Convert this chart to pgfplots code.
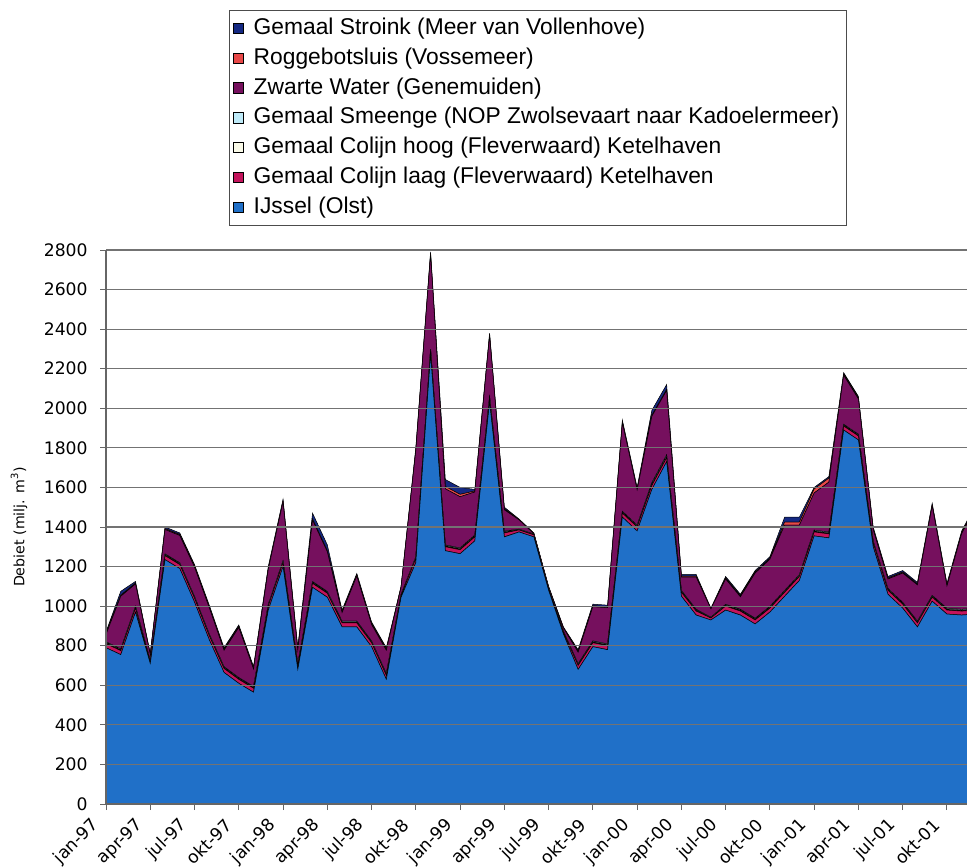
\documentclass[border=0pt]{standalone}
\usepackage{fontspec}
\usepackage{pgfplots}
\usepackage{pgfplotstable}
\pgfplotsset{compat=1.18}
\newfontfamily\tickfont{DejaVu Sans}
\newfontfamily\legendfont{Liberation Sans}
\definecolor{cIJ}{RGB}{32,112,200}
\definecolor{cLaag}{RGB}{196,20,92}
\definecolor{cHoog}{RGB}{250,250,232}
\definecolor{cSmee}{RGB}{190,234,248}
\definecolor{cZwart}{RGB}{118,16,94}
\definecolor{cRogge}{RGB}{232,72,72}
\definecolor{cStro}{RGB}{20,40,130}

\pgfplotstableread{
x blue laag hoog smee zwart rogge stro
0 790 20 4 5 38 5 8
1 755 20 4 5 266 5 20
2 970 20 4 5 113 5 8
3 710 10 2 2 32 2 2
4 1235 20 4 5 123 5 8
5 1190 20 4 5 138 5 8
6 1020 20 4 5 148 5 8
7 830 20 4 5 133 5 8
8 665 20 4 5 83 5 8
9 610 20 4 5 253 5 8
10 565 20 4 5 88 5 8
11 980 20 4 5 178 5 8
12 1200 20 4 5 298 5 8
13 680 20 4 5 68 5 8
14 1095 20 4 5 311 5 30
15 1045 20 4 5 201 5 30
16 895 20 4 5 43 5 8
17 895 20 4 5 228 5 8
18 795 20 4 5 83 5 8
19 630 20 4 5 118 5 8
20 1045 10 2 2 37 2 2
21 1220 20 4 5 538 5 8
22 2270 20 4 5 478 5 8
23 1280 20 4 5 284 12 35
24 1265 20 4 5 259 12 35
25 1330 20 4 5 218 5 8
26 2030 20 4 5 308 5 8
27 1350 20 4 5 108 5 8
28 1375 10 2 2 47 2 2
29 1350 10 2 2 2 2 2
30 1080 10 2 2 2 2 2
31 860 10 2 2 17 2 2
32 680 20 4 5 58 5 8
33 795 20 4 5 173 5 8
34 780 20 4 5 183 5 8
35 1450 20 4 5 448 5 8
36 1380 20 4 5 178 5 8
37 1590 20 4 10 336 5 25
38 1730 20 4 10 326 5 25
39 1050 20 4 5 68 5 8
40 955 20 4 5 163 5 8
41 930 10 2 2 42 2 2
42 980 20 4 5 128 5 8
43 955 20 4 5 63 5 8
44 910 20 4 5 228 5 8
45 970 20 4 5 238 5 8
46 1050 20 4 5 331 15 25
47 1130 20 4 5 251 15 25
48 1355 20 4 5 188 20 8
49 1345 20 4 5 253 20 8
50 1890 20 4 5 248 5 8
51 1840 20 4 5 178 5 8
52 1300 20 4 5 58 5 8
53 1060 20 4 5 48 5 8
54 990 20 4 5 148 5 8
55 895 20 4 5 183 5 8
56 1025 20 4 5 453 5 8
57 960 20 4 5 113 5 8
58 955 20 4 5 383 5 8
59 960 20 4 5 518 5 8
}\data

\begin{document}
\begin{tikzpicture}
\begin{axis}[
  at={(0,0)}, anchor=south west,
  width=430.5pt, height=277pt, scale only axis,
  xmin=0, xmax=58.36, ymin=0, ymax=2800,
  axis x line*=bottom, axis y line*=left,
  axis line style={black!60, line width=0.6pt},
  ytick={0,200,...,2800},
  xtick={0,3,...,57},
  xticklabels={jan-97,apr-97,jul-97,okt-97,jan-98,apr-98,jul-98,okt-98,jan-99,apr-99,jul-99,okt-99,jan-00,apr-00,jul-00,okt-00,jan-01,apr-01,jul-01,okt-01},
  tick align=outside,
  major tick length=3pt,
  tick style={black!60, line width=0.5pt},
  ymajorgrids,
  major grid style={black!55, line width=0.6pt},
  stack plots=y,
  area style,
  every axis plot/.append style={line width=0.25pt, draw=black},
  tick label style={font=\tickfont\fontsize{8.6}{10}\selectfont},
  /pgf/number format/assume math mode=true,
  /pgf/number format/1000 sep={},
  xticklabel style={xshift=-5pt, yshift=-6pt, rotate=45, anchor=east, inner sep=0pt},
  yticklabel style={anchor=east, inner sep=0pt, xshift=-6pt},
  ylabel={Debiet (milj. m\textsuperscript{3})},
  ylabel style={font=\tickfont\fontsize{7.1}{8}\selectfont, at={(axis description cs:-0.101,0.5)}, anchor=center},
  reverse legend,
  legend style={at={(0.1429,1.4332)}, anchor=north west, draw=black!70, line width=0.5pt,
    font=\legendfont\fontsize{11.4}{13}\selectfont, inner xsep=1.5pt, inner ysep=1.5pt, row sep=0pt,
    cells={anchor=west}, nodes={text height=8.7pt, text depth=2.6pt, inner ysep=1.8pt, inner xsep=2pt},
    /tikz/every odd column/.append style={column sep=3pt}},
  legend image code/.code={\draw[#1, draw=black, line width=0.4pt] (0.5pt,-2.6pt) rectangle (5.7pt,2.6pt);},
]
\addplot[fill=cIJ] table[x=x, y=blue] {\data} \closedcycle;
\addlegendentry{IJssel (Olst)}
\addplot[fill=cLaag] table[x=x, y=laag] {\data} \closedcycle;
\addlegendentry{Gemaal Colijn laag (Fleverwaard) Ketelhaven}
\addplot[fill=cHoog] table[x=x, y=hoog] {\data} \closedcycle;
\addlegendentry{Gemaal Colijn hoog (Fleverwaard) Ketelhaven}
\addplot[fill=cSmee] table[x=x, y=smee] {\data} \closedcycle;
\addlegendentry{Gemaal Smeenge (NOP Zwolsevaart naar Kadoelermeer)}
\addplot[fill=cZwart] table[x=x, y=zwart] {\data} \closedcycle;
\addlegendentry{Zwarte Water (Genemuiden)}
\addplot[fill=cRogge] table[x=x, y=rogge] {\data} \closedcycle;
\addlegendentry{Roggebotsluis (Vossemeer)}
\addplot[fill=cStro] table[x=x, y=stro] {\data} \closedcycle;
\addlegendentry{Gemaal Stroink (Meer van Vollenhove)}
\end{axis}
\pgfresetboundingbox
\path[use as bounding box] (-53pt,-31.5pt) rectangle (430.5pt,402pt);
\end{tikzpicture}
\end{document}
